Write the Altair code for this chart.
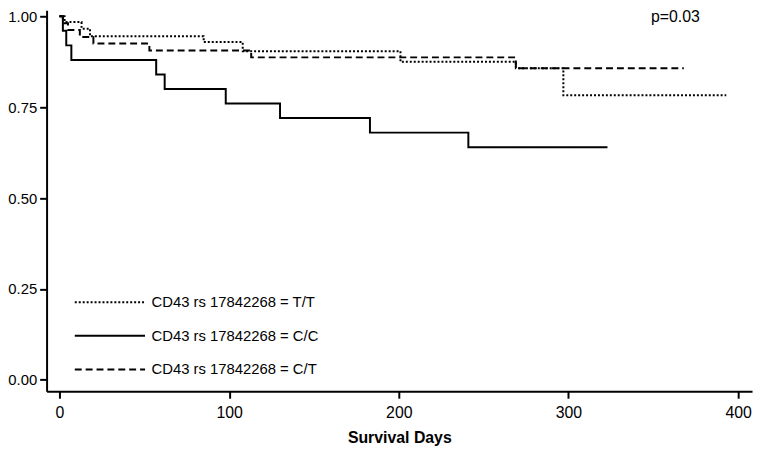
import altair as alt
import pandas as pd

# --- data ---
groups = ["CD43 rs 17842268 = T/T", "CD43 rs 17842268 = C/C", "CD43 rs 17842268 = C/T"]

tt_days = [0, 3, 13, 18, 85, 108, 201, 269, 297, 393]
tt_surv = [1.0, 0.984, 0.966, 0.945, 0.929, 0.904, 0.875, 0.857, 0.783, 0.783]

cc_days = [0, 2, 4, 7, 57, 62, 98, 130, 183, 241, 323]
cc_surv = [1.0, 0.96, 0.92, 0.88, 0.84, 0.80, 0.76, 0.72, 0.68, 0.64, 0.64]

ct_days = [0, 2, 5, 12, 20, 53, 113, 269, 368]
ct_surv = [1.0, 0.981, 0.962, 0.943, 0.925, 0.906, 0.887, 0.857, 0.857]

x_ticks = [0, 100, 200, 300, 400]
y_ticks = [0.0, 0.25, 0.5, 0.75, 1.0]

annot_text = ["p=0.03"]
annot_day = [363]
annot_surv = [0.997]

# --- build table ---
rows = []
for g, days, surv in [(groups[0], tt_days, tt_surv),
                      (groups[1], cc_days, cc_surv),
                      (groups[2], ct_days, ct_surv)]:
    for i, (d, s) in enumerate(zip(days, surv)):
        rows.append({"group": g, "day": d, "surv": s, "order": i})
df = pd.DataFrame(rows)
ann = pd.DataFrame({"day": annot_day, "surv": annot_surv, "label": annot_text})

FONT = "Liberation Sans"

xscale = alt.Scale(domain=[-7.6, 408.2], nice=False, zero=False)
yscale = alt.Scale(domain=[-0.0313, 1.0163], nice=False, zero=False)

lines = alt.Chart(df).mark_line(
    interpolate="step-after", color="black", strokeWidth=2
).encode(
    x=alt.X("day:Q", scale=xscale,
            axis=alt.Axis(values=x_ticks, title="Survival Days", format="d")),
    y=alt.Y("surv:Q", scale=yscale,
            axis=alt.Axis(values=y_ticks, format=".2f", title=None)),
    order="order:Q",
    strokeDash=alt.StrokeDash(
        "group:N",
        scale=alt.Scale(domain=groups, range=[[2, 2], [1, 0], [7, 4]]),
        legend=alt.Legend(
            orient="none", legendX=87, legendY=287.5, title=None,
            symbolType="M -13.2 0 L 1 0", symbolSize=100,
            symbolStrokeColor="black", symbolStrokeWidth=2,
            symbolFillColor="transparent",
            labelFont=FONT, labelFontSize=15, labelColor="black",
            labelLimit=400, rowPadding=18, labelOffset=4, padding=0,
        ),
    ),
)

text = alt.Chart(ann).mark_text(
    font=FONT, fontSize=16, color="black", align="center", baseline="middle"
).encode(
    x=alt.X("day:Q", scale=xscale),
    y=alt.Y("surv:Q", scale=yscale),
    text="label:N",
)

chart = alt.layer(lines, text).properties(
    width=713, height=385,
    autosize=alt.AutoSizeParams(type="none"),
    padding={"left": 39, "top": 0, "right": 2, "bottom": 58},
).configure_view(
    stroke=None
).configure_axis(
    grid=False,
    domainColor="black", domainWidth=2,
    tickColor="black", tickWidth=2, tickSize=7,
    labelFont=FONT, labelFontSize=15, labelColor="black",
    titleFont=FONT, titleFontSize=16, titleColor="black", titleFontWeight="bold",
).configure_axisX(
    labelFontSize=16, labelPadding=7, titlePadding=9,
).configure_axisY(
    labelPadding=3,
)

chart.save("out.html", embed_options={"renderer": "svg", "actions": False})
